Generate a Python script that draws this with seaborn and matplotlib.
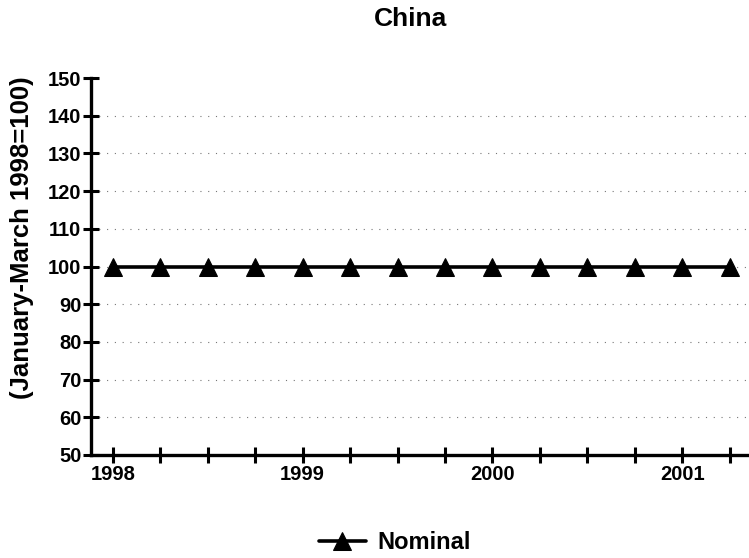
import numpy as np
import pandas as pd
import seaborn as sns
import matplotlib.pyplot as plt

# Quarterly index, Jan-Mar 1998 = 100
quarters = ['1998Q1', '1998Q2', '1998Q3', '1998Q4',
            '1999Q1', '1999Q2', '1999Q3', '1999Q4',
            '2000Q1', '2000Q2', '2000Q3', '2000Q4',
            '2001Q1', '2001Q2']
nominal = [100, 100, 100, 100, 100, 100, 100, 100,
           100, 100, 100, 100, 100, 100]
year_labels = ['1998', '1999', '2000', '2001']

sns.set_style('white')
plt.rcParams['font.family'] = ['Liberation Sans', 'DejaVu Sans']
plt.rcParams['font.weight'] = 'bold'
plt.rcParams['text.color'] = 'black'

df = pd.DataFrame({'pos': range(len(quarters)), 'quarter': quarters,
                   'Nominal': nominal})

fig = plt.figure(figsize=(7.49, 5.58), dpi=100)
ax = fig.add_axes([0.1215, 0.1846, 0.878, 0.6756])

sns.lineplot(data=df, x='pos', y='Nominal', ax=ax, color='black',
             linewidth=2.6, marker='^', markersize=13, markeredgecolor='black',
             label='Nominal', legend=False)

ax.set_ylim(50, 150)
ax.set_yticks(range(50, 151, 10))
ax.set_xlim(-0.46, 13.4)
ax.set_xticks(df['pos'])
ax.set_xticklabels(['' if i % 4 else year_labels[i // 4]
                    for i in range(len(quarters))])

ax.yaxis.grid(True, linestyle=(0, (1, 6)), color='#777777', linewidth=0.8)
ax.get_ygridlines()[-1].set_visible(False)
ax.get_ygridlines()[0].set_visible(False)

for side in ['top', 'right']:
    ax.spines[side].set_visible(False)
for side in ['left', 'bottom']:
    ax.spines[side].set_linewidth(2.4)
    ax.spines[side].set_color('black')

ax.tick_params(axis='both', direction='inout', length=12, width=2.2,
               labelsize=14.5, colors='black', pad=1,
               bottom=True, left=True)
for lbl in ax.get_xticklabels() + ax.get_yticklabels():
    lbl.set_fontweight('bold')

ax.set_xlabel('')
ax.set_ylabel('(January-March 1998=100)', fontsize=18.5, fontweight='bold',
              color='black')
ax.yaxis.set_label_coords(-0.087, 0.576)

fig.suptitle('China', x=0.548, y=0.988, fontsize=19, fontweight='bold',
             color='black')

handles, labels = ax.get_legend_handles_labels()
fig.legend(handles, labels, loc='center', bbox_to_anchor=(0.527, 0.027),
           frameon=False, prop={'weight': 'bold', 'size': 17},
           handlelength=2.0, handletextpad=0.5, labelcolor='black')

fig.savefig('out.png', dpi=100)
